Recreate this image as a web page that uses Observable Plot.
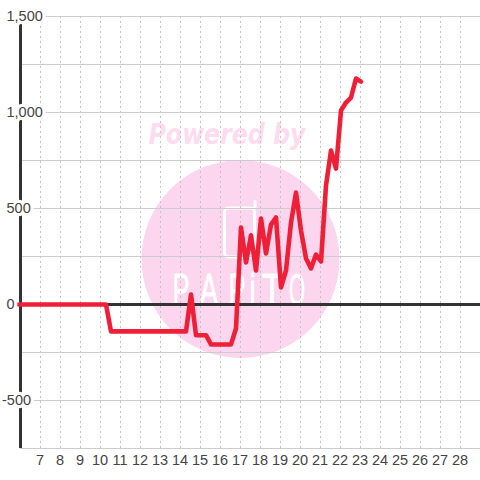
<!DOCTYPE html>
<html>
<head>
<meta charset="utf-8">
<style>html,body{margin:0;padding:0;background:#fff}svg{display:block}</style>
<script src="https://cdn.jsdelivr.net/npm/d3@7"></script>
<script src="https://cdn.jsdelivr.net/npm/@observablehq/plot@0.6"></script>
</head>
<body>
<script>
const hours = [5.9,10.25,10.5,14.25,14.5,14.75,15.25,15.5,16.5,16.75,17,17.25,17.5,17.75,18,18.25,18.5,18.75,19,19.25,19.5,19.75,20,20.25,20.5,20.75,21,21.25,21.5,21.75,22,22.25,22.5,22.75,23];
const values = [0,0,-140,-140,52,-160,-160,-208,-208,-125,401,219,360,177,448,266,416,453,89,177,427,583,385,240,188,260,224,620,802,708,1010,1052,1078,1177,1161];
const xTicks = [7,8,9,10,11,12,13,14,15,16,17,18,19,20,21,22,23,24,25,26,27,28];
const yGrid = [-750,-500,-250,0,250,500,750,1000,1250,1500];
const yLabels = [1500,1000,500,0];
const yLabelsNeg = [-500];
const wmLetters = ["P","A","P","i","T","O"];
const wmAt = [14,15.4,16.8,17.57,18.55,19.8];
const wmWidths = [17,18,17,6,20,16];
const series = hours.map((h,i)=>({h,v:values[i]}));
const fmt = d3.format(",");
const FONT = "'Liberation Sans', Arial, sans-serif";

const chart = Plot.plot({
  width:480,height:480,
  marginLeft:0,marginRight:0,marginTop:16,marginBottom:32,
  style:{background:"#fff",fontFamily:FONT},
  x:{domain:[4.975,28.975],range:[0,480]},
  y:{domain:[-750,1500],axis:null},
  marks:[
    Plot.dot([0],{x:()=>16.975,y:()=>237,r:99,fill:"#fbd6ee"}),
    Plot.text(["Powered by"],{x:()=>16.3,y:()=>882,text:d=>d,fontSize:29,fontWeight:"bold",fontStyle:"italic",fontFamily:"'DejaVu Sans'",fill:"#fddcf0",className:"pw"}),
    Plot.text(wmLetters,{x:(d,i)=>wmAt[i],y:()=>73,text:d=>d,fontSize:44,fontFamily:FONT,fill:"#fff",stroke:"#fff",strokeWidth:0.8,className:"wm"}),
    Plot.rect([0],{x1:()=>16.2,x2:()=>17.7,y1:()=>245,y2:()=>500,rx:4,fill:"none",stroke:"#fff",strokeWidth:3}),
    Plot.ruleX([17.7],{y1:500,y2:540,stroke:"#fff",strokeWidth:3}),
    Plot.ruleY(yGrid,{x1:5.975,x2:28.975,stroke:"#ccc",strokeWidth:1.2}),
    Plot.gridX(xTicks,{stroke:"#c4c4c4",strokeOpacity:1,strokeDasharray:"2,3",dx:-0.5}),
    Plot.ruleY([0],{x1:5.975,x2:28.975,stroke:"#333",strokeWidth:3}),
    Plot.ruleX([5.975],{y1:-750,y2:1458,stroke:"#333",strokeWidth:3}),
    Plot.line(series,{x:"h",y:"v",stroke:"#f01f38",strokeWidth:4.6,strokeLinejoin:"round"}),
    Plot.axisX(xTicks,{anchor:"bottom",tickSize:0,tickPadding:6,fontSize:14.5,fill:"#444",label:null,tickFormat:d=>d,dx:-1}),
    Plot.text(yLabels,{y:d=>d,text:d=>fmt(d),frameAnchor:"left",textAnchor:"start",dx:6,fontSize:14.5,fill:"#444",stroke:"#fff",strokeWidth:6.5}),
    Plot.text(yLabelsNeg,{y:d=>d,text:d=>String(d),frameAnchor:"left",textAnchor:"start",dx:1.5,fontSize:14.5,fill:"#444",stroke:"#fff",strokeWidth:6.5})
  ]
});
chart.querySelectorAll(".wm text, text.wm").forEach((t,i)=>{
  t.setAttribute("textLength",wmWidths[i]);t.setAttribute("lengthAdjust","spacingAndGlyphs");
});
chart.querySelectorAll(".pw text, text.pw").forEach(t=>{t.setAttribute("textLength",157);t.setAttribute("lengthAdjust","spacingAndGlyphs");});
document.body.appendChild(chart);
</script>
</body>
</html>
